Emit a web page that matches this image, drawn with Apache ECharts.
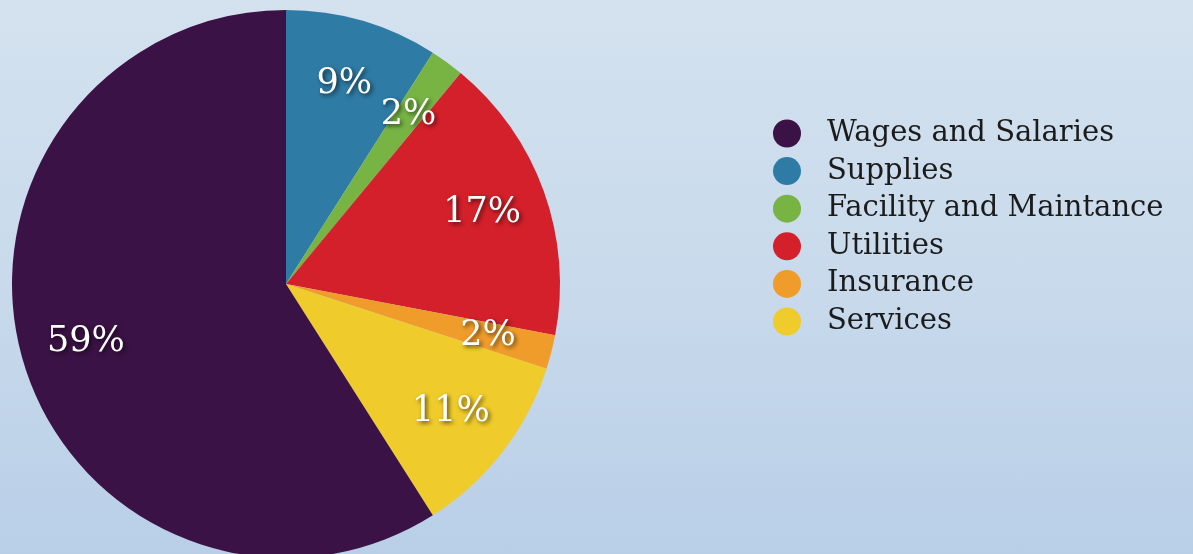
<!DOCTYPE html>
<html>
<head>
<meta charset="utf-8">
<script src="https://cdn.jsdelivr.net/npm/echarts@6/dist/echarts.min.js"></script>
<style>
html,body{margin:0;padding:0;width:1193px;height:554px;overflow:hidden;}
#chart{width:1193px;height:554px;background:linear-gradient(180deg,#d4e2ef 0%,#c7d9eb 55%,#b9cfe8 100%);}
</style>
</head>
<body>
<div id="chart"></div>
<script>
// Slices in clockwise order starting at 12 o'clock
var categories = ['Supplies', 'Facility and Maintance', 'Utilities', 'Insurance', 'Services', 'Wages and Salaries'];
var values = [9, 2, 17, 2, 11, 59];
var colors = ['#2e7ba5', '#77b444', '#d4202a', '#ef9c2b', '#efcb2b', '#3b1245'];
var legendOrder = ['Wages and Salaries', 'Supplies', 'Facility and Maintance', 'Utilities', 'Insurance', 'Services'];

var chart = echarts.init(document.getElementById('chart'), null, {renderer: 'canvas'});

var pieData = categories.map(function (c, i) {
  return {name: c, value: values[i], itemStyle: {color: colors[i]}};
});
var labelData = categories.map(function (c, i) {
  return {name: c, value: values[i], itemStyle: {color: 'rgba(0,0,0,0)'}};
});

chart.setOption({
  backgroundColor: 'transparent',
  animation: false,
  legend: {
    data: legendOrder,
    orient: 'vertical',
    left: 768,
    top: 114,
    icon: 'circle',
    itemWidth: 28,
    itemHeight: 28,
    itemGap: 8.6,
    selectedMode: false,
    textStyle: {
      fontFamily: 'DejaVu Serif',
      fontSize: 29,
      color: '#1b1b1b',
      padding: [0, 0, 0, 21]
    }
  },
  series: [
    {
      type: 'pie',
      center: [286, 284],
      radius: [0, 274],
      startAngle: 90,
      clockwise: true,
      data: pieData,
      label: {show: false},
      labelLine: {show: false},
      silent: true
    },
    {
      type: 'pie',
      center: [286, 284],
      radius: [137, 274],
      startAngle: 90,
      clockwise: true,
      data: labelData,
      silent: true,
      labelLine: {show: false},
      label: {
        show: true,
        position: 'inside',
        formatter: '{c}%',
        fontFamily: 'DejaVu Serif',
        fontSize: 35,
        color: '#ffffff',
        textShadowColor: 'rgba(0,0,0,0.65)',
        textShadowBlur: 4,
        textShadowOffsetX: 2,
        textShadowOffsetY: 2
      }
    }
  ]
});
</script>
</body>
</html>
